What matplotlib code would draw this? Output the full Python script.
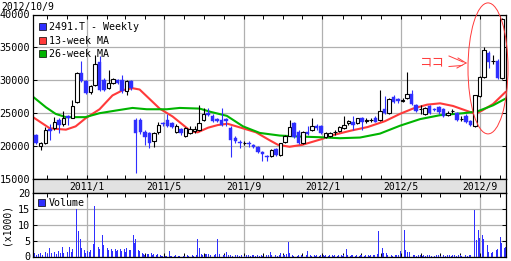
import numpy as np
import pandas as pd
import matplotlib
matplotlib.use("Agg")
import matplotlib.pyplot as plt
import matplotlib.dates as mdates
from matplotlib.patches import Patch, Ellipse
from matplotlib.lines import Line2D

# weekly candles, first week ends 2010-10-15
first_week = "2010-10-15"
opens = [21700, 20000, 20400, 22600, 22700, 24000, 23300, 24600, 24300, 26700,
         31100, 29850, 28200, 29350, 32750, 30100, 28800, 29600, 30000, 30000,
         28300, 29850, 24000, 24000, 22200, 21950, 20800, 22100, 23500, 24000,
         23500, 22100, 22550, 21550, 22050, 22350, 22450, 24000, 25000, 24650,
         24100, 24000, 24100, 22700, 21200, 20600, 20400, 20400, 20100, 19900,
         19100, 18400, 18470, 19500, 18600, 20660, 21600, 23500, 22200, 20400,
         22200, 22450, 23000, 23000, 21450, 21550, 22100, 22300, 22700, 23450,
         23700, 23550, 24250, 23800, 23950, 24200, 23900, 25600, 25100, 27400,
         27150, 26900, 27300, 27950, 26200, 25600, 24900, 26100, 25600, 25900,
         25600, 24800, 25350, 25000, 24050, 24650, 23780, 23100, 27550, 30500,
         34200, 32900, 33000, 30300]
highs = [21900, 20600, 22850, 23400, 24400, 24200, 25400, 24800, 27000, 31300,
         32900, 30000, 29300, 33800, 33700, 30400, 31600, 30400, 30200, 30800,
         30000, 30000, 24200, 24200, 22400, 22100, 22200, 23700, 23700, 24900,
         23700, 23300, 22700, 22900, 23000, 23100, 26300, 25800, 25800, 24900,
         24300, 25800, 24300, 23000, 21500, 20900, 20800, 20700, 20300, 20000,
         19200, 18650, 19600, 19700, 20500, 21700, 24000, 23700, 22400, 22300,
         23100, 24200, 23400, 23200, 22200, 22200, 22500, 23100, 24600, 24000,
         24500, 24300, 24400, 24200, 24300, 24500, 28600, 27600, 27300, 27700,
         27300, 27300, 31200, 28500, 26400, 26200, 26000, 26300, 25800, 26100,
         25800, 25300, 25700, 25200, 24500, 24900, 24000, 27800, 30600, 35000,
         34500, 33900, 33200, 39500]
lows = [20300, 19400, 20300, 21000, 22500, 22000, 23100, 23200, 24200, 26500,
        29700, 27900, 27900, 29200, 28400, 28300, 28700, 29400, 29400, 28000,
        27800, 28600, 15900, 21900, 20150, 19650, 19900, 21900, 23000, 22900,
        22700, 22000, 21700, 21400, 21900, 22000, 22300, 23800, 24600, 23600,
        23600, 23000, 23000, 18400, 20500, 19650, 20100, 19900, 19700, 19000,
        17700, 17800, 18400, 18500, 18500, 20500, 21500, 21300, 20300, 20300,
        21700, 22300, 22500, 21900, 21300, 21400, 21700, 22200, 22600, 23200,
        22450, 23400, 22450, 23500, 23700, 23600, 23800, 24900, 24900, 26500,
        26600, 26700, 27100, 26200, 25200, 24900, 24800, 24900, 25300, 24900,
        24400, 24600, 25000, 23800, 23800, 23500, 23000, 22900, 27400, 30400,
        31800, 32500, 30200, 30200]
closes = [20500, 20500, 22450, 22300, 23600, 23200, 24200, 24300, 26100, 31100,
          29850, 28100, 29100, 32550, 28600, 28600, 29600, 30250, 29600, 28300,
          29850, 28800, 22000, 22100, 21450, 20500, 21950, 23200, 23300, 23000,
          22900, 23100, 21950, 22700, 22550, 22550, 23570, 24850, 24700, 23750,
          23750, 23200, 23800, 20900, 20700, 20450, 20450, 20250, 19800, 19150,
          18750, 18300, 19390, 18600, 20400, 21580, 22850, 21400, 20400, 22200,
          21850, 23060, 22800, 22050, 22050, 22050, 22200, 22950, 23200, 23850,
          23200, 24250, 23700, 24000, 24000, 23700, 25300, 25100, 27100, 26650,
          26800, 27000, 27900, 26350, 25300, 25650, 25800, 25000, 25500, 25150,
          24650, 25100, 25400, 24000, 24100, 23630, 23270, 27700, 30500, 34600,
          32800, 33000, 30300, 39300]

ma13_dates = ["2010-10-10", "2010-11-05", "2010-11-30", "2010-12-15", "2010-12-30",
              "2011-01-21", "2011-02-10", "2011-02-26", "2011-03-13", "2011-03-24",
              "2011-04-08", "2011-04-24", "2011-05-14", "2011-06-12", "2011-06-22",
              "2011-07-08", "2011-07-23", "2011-08-07", "2011-08-31", "2011-09-20",
              "2011-10-11", "2011-10-24", "2011-11-11", "2011-12-01", "2012-01-01",
              "2012-01-14", "2012-02-14", "2012-03-11", "2012-04-07", "2012-04-30",
              "2012-05-20", "2012-06-11", "2012-07-01", "2012-07-21", "2012-08-13",
              "2012-08-24", "2012-09-04", "2012-09-21", "2012-10-10"]
ma13_vals = [24400, 22700, 22500, 23000, 24200, 25600, 27700, 28500, 28800, 28600,
             27200, 25700, 24500, 22200, 22100, 22800, 23200, 23400, 22700, 22100,
             20900, 20200, 19900, 20200, 21100, 21600, 22350, 22900, 23800, 24900,
             25700, 26300, 26500, 26100, 25300, 24900, 25400, 26400, 28200]

ma26_dates = ["2010-10-10", "2010-10-30", "2010-11-14", "2010-11-30", "2010-12-30",
              "2011-01-21", "2011-02-15", "2011-03-13", "2011-04-04", "2011-05-05",
              "2011-05-25", "2011-06-25", "2011-07-12", "2011-08-06", "2011-08-31",
              "2011-09-26", "2011-10-27", "2011-11-27", "2011-12-28", "2012-01-28",
              "2012-02-28", "2012-03-30", "2012-04-30", "2012-05-31", "2012-07-01",
              "2012-08-06", "2012-08-27", "2012-09-21", "2012-10-10"]
ma26_vals = [27500, 25900, 24900, 24400, 24400, 25000, 25400, 25800, 25600, 25600,
             25800, 25700, 25200, 24600, 23000, 22000, 21600, 21450, 21350, 21200,
             21300, 21900, 23100, 24100, 24700, 25000, 25250, 26200, 27200]

# volume (x1000), one value every second business day from 2010-10-11
volume = [0.6, 1.0, 0.5, 0.8, 1.2, 0.6, 0.9, 1.4, 0.7, 2.6,
          1.1, 0.8, 1.3, 0.9, 1.6, 1.0, 2.9, 1.2, 0.8, 1.5,
          2.9, 1.3, 2.3, 1.8, 15.0, 7.9, 5.5, 2.6, 2.0, 1.2,
          1.8, 1.4, 2.0, 4.0, 15.8, 4.6, 3.0, 2.2, 6.9, 3.6,
          2.6, 2.8, 1.9, 2.2, 1.6, 2.4, 1.8, 2.0, 2.5, 1.7,
          2.2, 1.5, 2.6, 1.9, 2.0, 6.9, 4.1, 5.5, 2.0, 1.8,
          1.0, 0.8, 0.6, 0.9, 0.7, 1.0, 0.6, 0.8, 0.5, 0.7,
          0.4, 0.3, 0.2, 0.3, 0.2, 1.6, 0.3, 0.2, 0.3, 0.4,
          0.2, 0.3, 0.5, 0.2, 0.3, 0.4, 0.2, 0.3, 0.5, 0.3,
          0.4, 5.6, 2.6, 0.8, 0.6, 0.9, 0.7, 0.8, 0.5, 0.9,
          0.6, 0.7, 5.4, 0.8, 0.5, 0.6, 0.4, 1.4, 0.5, 0.4,
          0.3, 0.5, 0.4, 0.6, 0.3, 0.5, 0.7, 0.3, 0.4, 0.5,
          0.3, 0.6, 0.4, 0.3, 0.5, 0.3, 0.4, 0.2, 0.3, 0.4,
          0.5, 1.3, 0.4, 0.3, 0.5, 0.3, 0.6, 1.1, 0.4, 0.5,
          0.8, 4.4, 1.1, 0.4, 0.3, 0.5, 0.3, 0.4, 0.6, 0.3,
          0.4, 0.5, 1.6, 0.4, 0.3, 0.5, 0.3, 0.4, 0.3, 0.5,
          0.4, 0.3, 0.6, 0.3, 0.4, 0.5, 0.3, 0.4, 0.3, 0.5,
          0.4, 0.3, 0.6, 2.4, 0.5, 0.3, 0.4, 0.5, 0.3, 0.4,
          0.3, 0.5, 0.4, 0.3, 0.6, 0.4, 0.3, 0.5, 0.4, 0.6,
          0.8, 7.9, 3.1, 2.6, 1.1, 1.0, 0.6, 0.4, 0.5, 0.3,
          0.4, 0.6, 0.5, 1.6, 1.2, 8.4, 2.1, 1.3, 1.3, 1.0,
          0.5, 0.4, 0.3, 0.5, 0.4, 0.3, 0.5, 0.3, 0.4, 0.6,
          0.3, 0.4, 0.3, 0.5, 0.4, 0.3, 0.5, 0.4, 0.3, 0.4,
          0.5, 0.3, 0.4, 0.6, 0.3, 0.5, 0.4, 0.3, 0.5, 0.4,
          0.3, 0.5, 0.4, 0.6, 14.7, 5.2, 8.4, 5.9, 6.7, 5.5,
          4.1, 3.6, 1.4, 1.2, 1.5, 2.1, 2.0, 2.3, 6.2, 4.1,
          2.8, 2.9]

band_labels = ["2011/1", "2011/5", "2011/9", "2012/1", "2012/5", "2012/9"]

BLUE = "#2f2fff"
RED = "#ff3a3a"
GREEN = "#00b400"
GRID = "#b0b0b0"

plt.rcParams["font.family"] = ["DejaVu Sans Mono"]

dates = pd.date_range(first_week, periods=len(opens), freq="7D")
o = np.array(opens); h = np.array(highs); l = np.array(lows); c = np.array(closes)
up = c >= o
xs = mdates.date2num(dates)
xlim = (mdates.date2num(pd.Timestamp("2010-10-10")), mdates.date2num(pd.Timestamp("2012-10-11")))

W, H = 511, 261
fig = plt.figure(figsize=(W / 100, H / 100), dpi=100)
ax = fig.add_axes([33 / W, 82 / H, 473 / W, 164.5 / H])
band = fig.add_axes([33 / W, 68.2 / H, 473 / W, 13.8 / H])
axv = fig.add_axes([33 / W, 4.5 / H, 473 / W, 63.7 / H])

# main price panel
ax.vlines(xs[up], l[up], h[up], color="black", lw=0.8, zorder=3)
ax.vlines(xs[~up], l[~up], h[~up], color=BLUE, lw=0.8, zorder=3)
body_up = np.maximum(c[up] - o[up], 60)
body_dn = np.maximum(o[~up] - c[~up], 120)
ax.bar(xs[up], body_up, bottom=o[up], width=5.4, facecolor="white",
       edgecolor="black", lw=0.8, zorder=4)
ax.bar(xs[~up], body_dn, bottom=c[~up], width=5.4, facecolor=BLUE,
       edgecolor=BLUE, lw=0.3, zorder=4)
ax.plot(pd.to_datetime(ma13_dates), ma13_vals, color=RED, lw=1.5, zorder=2)
ax.plot(pd.to_datetime(ma26_dates), ma26_vals, color=GREEN, lw=1.5, zorder=2)

ax.set_xlim(xlim)
ax.set_ylim(15000, 40000)
ax.set_yticks(range(15000, 40001, 5000))
for axx in (ax, axv):
    axx.xaxis.set_major_locator(mdates.MonthLocator(bymonth=[1, 5, 9]))
    axx.xaxis.set_minor_locator(mdates.MonthLocator())
    axx.grid(True, which="major", color=GRID, lw=0.9)
    axx.set_axisbelow(True)
    axx.tick_params(which="both", direction="in", length=3, width=0.7,
                    top=True, right=True, labelbottom=False, labelsize=7.3, pad=2)
    for s in axx.spines.values():
        s.set_linewidth(0.9)

handles = [Patch(facecolor=BLUE, edgecolor="black", lw=0.5),
           Patch(facecolor=RED, edgecolor="black", lw=0.5),
           Patch(facecolor=GREEN, edgecolor="black", lw=0.5)]
ax.legend(handles, ["2491.T - Weekly", "13-week MA", "26-week MA"],
          loc="upper left", bbox_to_anchor=(0.0, 0.985), frameon=False,
          fontsize=7.2, handlelength=0.7, handleheight=0.7,
          handletextpad=0.35, labelspacing=0.32, borderaxespad=0.3,
          borderpad=0.25)

# date band
band.set_facecolor("#e2e2e2")
band.set_xlim(xlim)
band.set_ylim(0, 1)
band.set_xticks([]); band.set_yticks([])
for s in band.spines.values():
    s.set_linewidth(0.9)
band_dates = pd.date_range("2011-01-01", periods=len(band_labels), freq="4MS")
for d, lab in zip(band_dates, band_labels):
    band.text(mdates.date2num(d), 0.45, lab, ha="center", va="center", fontsize=7)

# volume panel
vol_dates = pd.bdate_range("2010-10-11", periods=2 * len(volume))[::2]
axv.bar(vol_dates, volume, width=1.4, color=BLUE, lw=0)
axv.set_xlim(xlim)
axv.set_ylim(0, 20)
axv.set_yticks([0, 5, 10, 15, 20])
axv.set_ylabel("(x1000)", fontsize=7)
axv.yaxis.set_label_coords(-0.046, 0.5)
axv.legend([Patch(facecolor=BLUE, edgecolor="black", lw=0.5)], ["Volume"],
           loc="upper left", frameon=False, fontsize=7.2, handlelength=0.7,
           handleheight=0.7, handletextpad=0.35, borderaxespad=0.3, borderpad=0.2)

fig.text(1 / W, 1 - 7 / H, "2012/10/9", ha="left", va="center", fontsize=7)

# hand-drawn note
def fp(px, py):
    return px / W, 1 - py / H

fig.add_artist(Ellipse(fp(488, 68.4), 40 / W, 131 / H, transform=fig.transFigure,
                       fill=False, edgecolor=RED, lw=0.7))
fig.text(*fp(432, 62), "ココ", color=RED, fontsize=9, ha="center", va="center",
         family=["Noto Sans CJK JP", "DejaVu Sans"])
for (x0, y0), (x1, y1) in [((449, 56), (463, 62)), ((449, 66.5), (462, 65.5)),
                           ((458, 58), (466, 63)), ((466, 63), (457, 68))]:
    a, b = fp(x0, y0); cc, d = fp(x1, y1)
    fig.add_artist(Line2D([a, cc], [b, d], transform=fig.transFigure, color=RED, lw=0.7))

fig.savefig("out.png", dpi=100)
